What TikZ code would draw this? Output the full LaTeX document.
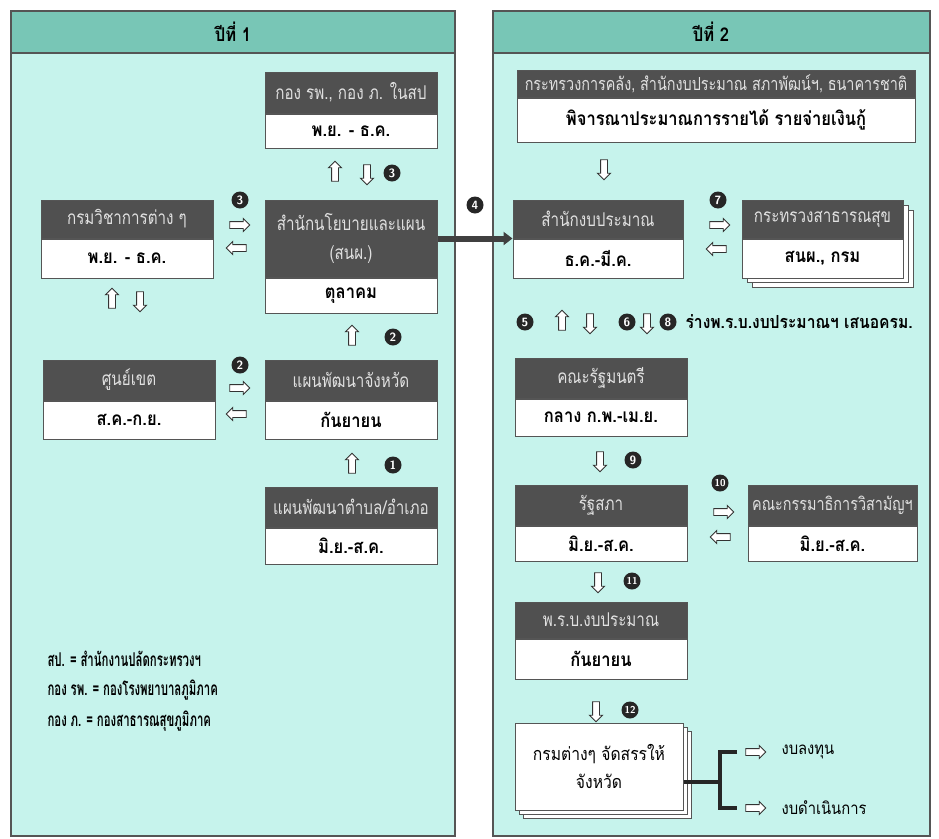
\documentclass[tikz,border=0pt]{standalone}
\usepackage{fontspec}
\setmainfont{Loma}[Script=Thai,FakeStretch=0.8]
\newfontfamily\cellfont{Loma}[Script=Thai,FakeStretch=0.87]
\newfontfamily\cond{Loma}[Script=Thai,FakeStretch=0.6]
\usetikzlibrary{positioning,shapes.arrows,arrows.meta,calc}

\definecolor{band}{RGB}{120,198,182}
\definecolor{pane}{RGB}{198,243,236}
\definecolor{boxgray}{RGB}{80,80,80}
\definecolor{edge}{RGB}{85,85,85}

\tikzstyle{head} = [rectangle, draw=edge, line width=1pt, fill=boxgray, text=black!12, minimum width=172pt, minimum height=39pt, inner sep=0.5pt, text centered, font=\fontsize{19}{21}\selectfont]
\tikzstyle{cell} = [rectangle, draw=edge, line width=1pt, fill=white, minimum width=172pt, minimum height=37pt, inner sep=0.5pt, text centered, font=\cellfont\bfseries\fontsize{19}{21}\selectfont]
\tikzstyle{num} = [circle, fill=black!85, text=white, inner sep=0pt, minimum size=17pt, font=\sffamily\bfseries\fontsize{12}{12}\selectfont]
\tikzstyle{blk} = [single arrow, draw=black!80, fill=white, line width=0.9pt, minimum height=20pt, inner xsep=0pt, inner ysep=3pt, single arrow head extend=3pt]
\tikzstyle{arrup} = [blk, rotate=90]
\tikzstyle{arrdown} = [blk, rotate=-90]
\tikzstyle{arrright} = [blk]
\tikzstyle{arrleft} = [blk, rotate=180]
\tikzstyle{note} = [font=\cond\bfseries\fontsize{19}{19}\selectfont]

\begin{document}
\begin{tikzpicture}[x=1pt, y=-1pt]
\useasboundingbox (0,0) rectangle (939,838);
% panels
\draw[edge, line width=1.5pt, fill=pane] (11,11) rectangle (455,836);
\draw[edge, line width=1.5pt, fill=band] (11,11) rectangle (455,53);
\draw[edge, line width=1.5pt, fill=pane] (493,11) rectangle (930,836);
\draw[edge, line width=1.5pt, fill=band] (493,11) rectangle (930,53);
\node (yr1) at (233,32) [font=\cellfont\bfseries\fontsize{19}{19}\selectfont] {ปีที่ 1};
\node (yr2) at (711,32) [font=\cellfont\bfseries\fontsize{19}{19}\selectfont] {ปีที่ 2};

% stacked paper behind two boxes
\foreach \s in {10,5}
  \draw[edge, line width=1pt, fill=white] (742+\s,200+\s) rectangle (903+\s,277+\s);
\foreach \s in {8,4}
  \draw[edge, line width=1pt, fill=white] (515+\s,723+\s) rectangle (683+\s,810+\s);

% year 1
\node (kong) [head, minimum height=41pt] at (351,92.5) {กอง รพ., กอง ภ. ในสป};
\node (kongc) [cell, below=0pt of kong, minimum height=34pt] {พ.ย. - ธ.ค.};
\node (snp) [head, minimum height=77pt, align=center] at (351,238.5) {สำนักนโยบายและแผน\\[8pt](สนผ.)};
\node (snpc) [cell, below=0pt of snp, minimum height=35pt] {ตุลาคม};
\node (kvc) [head, minimum height=38pt] at (127,219) {กรมวิชาการต่าง ๆ};
\node (kvcc) [cell, below=0pt of kvc, minimum height=39pt] {พ.ย. - ธ.ค.};
\node (sk) [head, minimum height=40pt] at (129,380) {ศูนย์เขต};
\node (skc) [cell, below=0pt of sk, minimum height=38pt] {ส.ค.-ก.ย.};
\node (pj) [head, minimum height=40pt] at (351,380) {แผนพัฒนาจังหวัด};
\node (pjc) [cell, below=0pt of pj, minimum height=38pt] {กันยายน};
\node (pt) [head, minimum height=40pt] at (351,507) {แผนพัฒนาตำบล/อำเภอ};
\node (ptc) [cell, below=0pt of pt, minimum height=36pt] {มิ.ย.-ส.ค.};

\node (u3) [arrup] at (335,173) {};
\node (d3) [arrdown] at (367,173) {};
\node (n3) [num] at (392,173) {3};
\node (n3b) [num] at (240,200) {3};
\node (r3) [arrright] at (238,225) {};
\node (l3) [arrleft] at (238,248) {};
\node (u9) [arrup] at (112,300) {};
\node (d9) [arrdown] at (140,300) {};
\node (u2) [arrup] at (352,337) {};
\node (n2) [num] at (393,337) {2};
\node (n2b) [num] at (240,365) {2};
\node (r2) [arrright] at (238,388) {};
\node (l2) [arrleft] at (238,414) {};
\node (u1) [arrup] at (352,465) {};
\node (n1) [num] at (393,465) {1};

\node (abbr) [note, anchor=west, align=left] at (44,691) {สป. = สำนักงานปลัดกระทรวงฯ\\[10pt]กอง รพ. = กองโรงพยาบาลภูมิภาค\\[10pt]กอง ภ. = กองสาธารณสุขภูมิภาค};

% year 2
\node (kl) [head, minimum width=398pt, minimum height=27pt, font=\fontsize{18}{20}\selectfont] at (716,83.5) {กระทรวงการคลัง, สำนักงบประมาณ สภาพัฒน์ฯ, ธนาคารชาติ};
\node (klc) [cell, minimum width=398pt, below=0pt of kl, minimum height=44pt] {พิจารณาประมาณการรายได้ รายจ่ายเงินกู้};
\node (sbp) [head, minimum width=170pt, minimum height=38pt] at (598,219) {สำนักงบประมาณ};
\node (sbpc) [cell, minimum width=170pt, below=0pt of sbp, minimum height=39pt] {ธ.ค.-มี.ค.};
\node (sts) [head, minimum width=161pt, minimum height=38pt] at (822.5,219) {กระทรวงสาธารณสุข};
\node (stsc) [cell, minimum width=161pt, below=0pt of sts, minimum height=39pt] {สนผ., กรม};
\node (krm) [head, minimum height=40pt] at (601,378) {คณะรัฐมนตรี};
\node (krmc) [cell, below=0pt of krm, minimum height=37pt] {กลาง ก.พ.-เม.ย.};
\node (rs) [head, minimum height=40pt] at (601,505) {รัฐสภา};
\node (rsc) [cell, below=0pt of rs, minimum height=35pt] {มิ.ย.-ส.ค.};
\node (kmt) [head, minimum width=169pt, minimum height=40pt, font=\fontsize{18}{20}\selectfont] at (832.5,505) {คณะกรรมาธิการวิสามัญฯ};
\node (kmtc) [cell, minimum width=169pt, below=0pt of kmt, minimum height=35pt] {มิ.ย.-ส.ค.};
\node (prb) [head, minimum height=36pt] at (601,620) {พ.ร.บ.งบประมาณ};
\node (prbc) [cell, below=0pt of prb, minimum height=40pt] {กันยายน};
\node (kd) [cell, minimum width=168pt, minimum height=87pt, align=center, font=\cellfont\fontsize{18}{20}\selectfont] at (599,766.5) {กรมต่างๆ จัดสรรให้\\[8pt]จังหวัด};

\node (d0) [arrdown] at (604,168) {};
\node (n7) [num] at (718,200) {7};
\node (r7) [arrright] at (718,225) {};
\node (l7) [arrleft] at (718,249) {};
\node (n5) [num] at (525,322) {5};
\node (u5) [arrup] at (562,322) {};
\node (d5) [arrdown] at (590,322) {};
\node (n6) [num] at (627,322) {6};
\node (d6) [arrdown] at (647,322) {};
\node (n8) [num] at (668,322) {8};
\node (draft) [anchor=west, font=\cellfont\bfseries\fontsize{18}{18}\selectfont] at (682,322) {ร่างพ.ร.บ.งบประมาณฯ เสนอครม.};
\node (d9b) [arrdown] at (600,460) {};
\node (n9) [num] at (633,460) {9};
\node (n10) [num, font=\sffamily\bfseries\fontsize{10}{10}\selectfont] at (720,483) {10};
\node (r10) [arrright] at (722,512) {};
\node (l10) [arrleft] at (722,537) {};
\node (d11) [arrdown] at (598,581) {};
\node (n11) [num, font=\sffamily\bfseries\fontsize{10}{10}\selectfont] at (632,581) {11};
\node (d12) [arrdown] at (596,710) {};
\node (n12) [num, font=\sffamily\bfseries\fontsize{10}{10}\selectfont] at (630,710) {12};

% link between years
\node (n4) [num] at (475,205) {4};
\draw[line width=6pt, black!75, -{Triangle[length=9pt,width=13pt]}] (snp.east) -- (sbp.south west);

% split of the budget
\coordinate (fork) at (720,782);
\coordinate (top) at (737,752);
\coordinate (bot) at (737,808);
\draw[line width=4pt, black!85] (kd.east |- fork) -- (fork);
\draw[line width=4pt, black!85] (top) -| (fork) |- (bot);
\node (rinv) [arrright] at (754,752) {};
\node (rrun) [arrright] at (754,808) {};
\node (inv) [anchor=west, font=\cellfont\fontsize{17}{17}\selectfont] at (778,752) {งบลงทุน};
\node (run) [anchor=west, font=\cellfont\fontsize{17}{17}\selectfont] at (778,808) {งบดำเนินการ};
\end{tikzpicture}
\end{document}
